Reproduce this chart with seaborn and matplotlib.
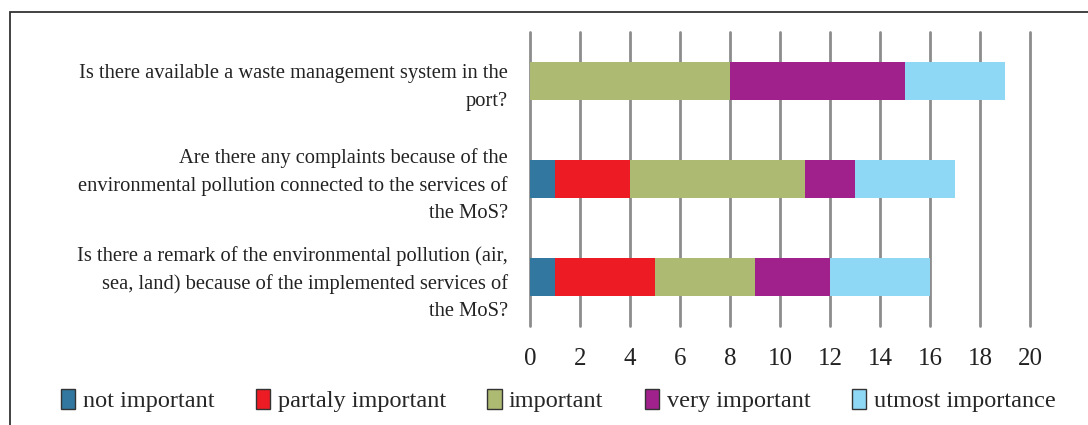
import numpy as np
import pandas as pd
import matplotlib
matplotlib.use('Agg')
import matplotlib.pyplot as plt
import seaborn as sns
from matplotlib.patches import Rectangle, Patch

questions = [
    "Is there available a waste management system in the\nport?",
    "Are there any complaints because of the\nenvironmental pollution connected to the services of\nthe MoS?",
    "Is there a remark of the environmental pollution (air,\nsea, land) because of the implemented services of\nthe MoS?",
]
series_names = ["not important", "partaly important", "important", "very important", "utmost importance"]
not_important = [0, 1, 1]
partaly_important = [0, 3, 4]
important = [8, 7, 4]
very_important = [7, 2, 3]
utmost_importance = [4, 4, 4]
colors = ["#31779F", "#ED1C24", "#ADBA72", "#A0218C", "#8ED8F6"]

sns.set_theme(style="white")
plt.rcParams['font.family'] = ['Liberation Serif', 'DejaVu Serif']

df = pd.DataFrame({
    "question": questions,
    series_names[0]: not_important,
    series_names[1]: partaly_important,
    series_names[2]: important,
    series_names[3]: very_important,
    series_names[4]: utmost_importance,
})
cum = df[series_names].cumsum(axis=1)

fig = plt.figure(figsize=(10.88, 4.25), dpi=100)
ax = fig.add_axes([0.487, 0.233, 0.46, 0.692])

# stacked: draw cumulative totals from the last series to the first
for name, color in reversed(list(zip(series_names, colors))):
    sns.barplot(x=cum[name], y=df["question"], color=color, width=0.39,
                saturation=1, linewidth=0, ax=ax, zorder=3)

ax.set_xlim(0, 20)
ax.set_ylim(2.5, -0.5)
ax.set_xticks(np.arange(0, 21, 2))
ax.xaxis.grid(True, color="#8C8C8C", linewidth=2, zorder=0)
for gl in ax.xaxis.get_gridlines():
    gl.set_clip_on(False)
ax.set_axisbelow(True)
for s in ax.spines.values():
    s.set_visible(False)
ax.set_xlabel("")
ax.set_ylabel("")
ax.tick_params(axis="x", length=0, pad=16, labelsize=18, labelcolor="#222222")
ax.tick_params(axis="y", length=0, pad=16, labelsize=14.8, labelcolor="#222222")
for t in ax.get_yticklabels():
    t.set_linespacing(1.58)
    t.set_horizontalalignment("right")
    t.set_multialignment("right")

handles = [Patch(facecolor=c, edgecolor="#333333", linewidth=1.0) for c in colors]
fig.legend(handles, series_names,
           loc="center", bbox_to_anchor=(0.513, 0.058), ncol=5, frameon=False,
           fontsize=17.5, handlelength=0.6, handleheight=0.9, handletextpad=0.3,
           columnspacing=1.7)

fig.patches.append(Rectangle((10 / 1088, -0.1), 1.1, 1.1 - 12 / 425,
                             transform=fig.transFigure, fill=False,
                             edgecolor="#333333", linewidth=1.3))

fig.savefig("out.png", dpi=100)
